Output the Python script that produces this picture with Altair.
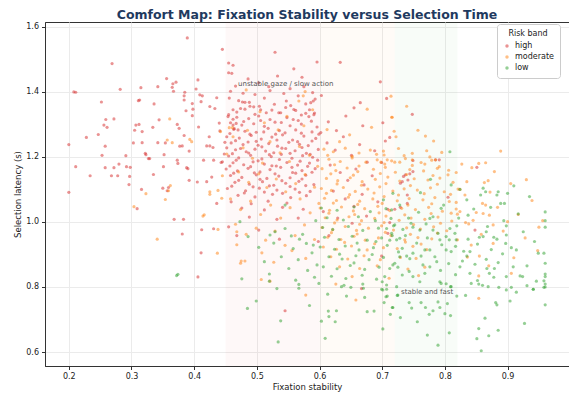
import altair as alt
import pandas as pd

# ---- data ----
high_pts = [
    (0.389,1.566),(0.445,1.531),(0.269,1.487),(0.356,1.441),(0.406,1.437),(0.366,1.425),(0.371,1.43),
    (0.342,1.416),(0.365,1.414),(0.282,1.408),(0.315,1.413),(0.367,1.402),(0.403,1.409),(0.208,1.40),
    (0.211,1.399),(0.385,1.399),(0.384,1.388),(0.384,1.375),(0.313,1.375),(0.311,1.373),(0.409,1.391),
    (0.413,1.388),(0.411,1.37),(0.436,1.382),(0.252,1.369),(0.336,1.363),(0.397,1.364),(0.425,1.355),
    (0.433,1.349),(0.387,1.342),(0.398,1.347),(0.397,1.327),(0.259,1.315),(0.272,1.317),(0.344,1.314),
    (0.256,1.298),(0.261,1.291),(0.307,1.298),(0.312,1.30),(0.373,1.30),(0.44,1.304),(0.305,1.282),
    (0.317,1.278),(0.334,1.291),(0.376,1.288),(0.407,1.292),(0.441,1.28),(0.228,1.26),(0.247,1.269),
    (0.384,1.266),(0.424,1.262),(0.2,1.238),(0.258,1.233),(0.303,1.243),(0.317,1.244),(0.342,1.244),
    (0.354,1.243),(0.377,1.233),(0.381,1.234),(0.392,1.218),(0.42,1.234),(0.425,1.234),(0.43,1.229),
    (0.449,1.245),(0.253,1.205),(0.291,1.204),(0.322,1.211),(0.323,1.207),(0.352,1.207),(0.448,1.209),
    (0.327,1.195),(0.329,1.195),(0.373,1.19),(0.415,1.19),(0.431,1.19),(0.445,1.185),(0.211,1.17),
    (0.258,1.167),(0.272,1.167),(0.28,1.178),(0.292,1.17),(0.351,1.17),(0.388,1.167),(0.234,1.142),
    (0.268,1.142),(0.278,1.142),(0.298,1.168),(0.297,1.14),(0.296,1.115),(0.2,1.091),(0.316,1.10),
    (0.335,1.146),(0.374,1.18),(0.39,1.164),(0.35,1.104),(0.359,1.106),(0.357,1.096),(0.309,1.041),
    (0.392,1.128),(0.405,1.123),(0.42,1.124),(0.428,1.138),(0.443,1.183),(0.436,1.057),(0.368,1.008),
    (0.383,1.008),(0.412,0.976),(0.431,0.979),(0.381,0.963),(0.411,0.905),(0.406,0.831),
    # dense band 0.45-0.60
    (0.455,1.489),(0.462,1.482),(0.455,1.459),(0.46,1.457),(0.529,1.522),(0.559,1.471),(0.533,1.449),
    (0.519,1.416),(0.575,1.416),(0.456,1.381),(0.471,1.373),(0.477,1.369),(0.481,1.368),(0.488,1.368),
    (0.495,1.354),(0.504,1.356),(0.593,1.378),(0.59,1.372),(0.586,1.367),(0.578,1.363),(0.462,1.345),
    (0.474,1.349),(0.481,1.347),(0.489,1.356),(0.506,1.345),(0.515,1.336),(0.535,1.336),(0.538,1.336),
    (0.554,1.358),(0.559,1.346),(0.562,1.343),(0.578,1.334),(0.584,1.345),(0.592,1.335),(0.591,1.33),
    (0.454,1.324),(0.462,1.316),(0.464,1.287),(0.47,1.283),(0.455,1.33),(0.462,1.298),(0.467,1.303),
    (0.497,1.392),(0.512,1.381),(0.543,1.395),(0.566,1.388),(0.528,1.362),(0.547,1.372),(0.466,1.418),
    (0.503,1.428),(0.486,1.44),(0.572,1.445),
    (0.468,1.322),(0.487,1.318),(0.503,1.326),(0.521,1.315),(0.548,1.321),(0.566,1.312),(0.583,1.324),
    (0.458,1.305),(0.476,1.298),(0.495,1.302),(0.512,1.294),(0.529,1.307),(0.553,1.296),(0.571,1.301),(0.596,1.292),
    (0.463,1.285),(0.481,1.279),(0.499,1.276),(0.518,1.288),(0.536,1.281),(0.545,1.274),(0.562,1.283),(0.588,1.277),
    (0.452,1.262),(0.472,1.258),(0.491,1.266),(0.507,1.255),(0.524,1.261),(0.541,1.268),(0.557,1.252),(0.575,1.264),(0.594,1.257),
    (0.459,1.243),(0.478,1.238),(0.486,1.246),(0.502,1.236),(0.519,1.241),(0.533,1.233),(0.551,1.245),(0.568,1.239),(0.582,1.235),
    (0.466,1.222),(0.483,1.216),(0.497,1.224),(0.514,1.218),(0.527,1.213),(0.546,1.226),(0.561,1.219),(0.579,1.211),(0.598,1.223),
    (0.455,1.203),(0.471,1.197),(0.49,1.205),(0.508,1.194),(0.523,1.201),(0.539,1.208),(0.556,1.196),(0.573,1.204),(0.589,1.199),
    (0.462,1.182),(0.479,1.176),(0.494,1.185),(0.512,1.178),(0.531,1.172),(0.548,1.183),(0.565,1.175),(0.584,1.181),
    (0.451,1.163),(0.469,1.157),(0.486,1.165),(0.505,1.154),(0.521,1.161),(0.538,1.168),(0.557,1.152),(0.572,1.158),(0.593,1.164),
    (0.458,1.143),(0.476,1.137),(0.499,1.145),(0.516,1.134),(0.535,1.141),(0.553,1.136),(0.578,1.144),
    (0.465,1.122),(0.488,1.116),(0.509,1.124),(0.527,1.113),(0.546,1.119),(0.567,1.125),(0.591,1.115),
    (0.453,1.103),(0.482,1.096),(0.504,1.104),(0.532,1.098),(0.561,1.101),(0.585,1.094),
    (0.47,1.082),(0.497,1.077),(0.525,1.085),(0.554,1.075),(0.579,1.081),
    (0.459,1.062),(0.491,1.056),(0.518,1.064),(0.548,1.058),
    (0.476,1.043),(0.512,1.037),(0.541,1.045),(0.574,1.039),
    (0.488,1.015),(0.532,1.008),(0.566,1.012),
    (0.455,0.985),(0.468,0.958),(0.503,0.975),(0.536,0.947),(0.545,0.727),
    (0.458,1.402),(0.478,1.396),(0.521,1.404),(0.553,1.41),(0.589,1.398),
    (0.468,1.338),(0.497,1.331),(0.524,1.344),(0.546,1.352),(0.571,1.329),
    (0.479,1.309),(0.506,1.312),(0.539,1.306),(0.558,1.315),(0.587,1.31),
    (0.457,1.272),(0.489,1.27),(0.511,1.277),(0.53,1.27),(0.571,1.273),(0.599,1.27),
    (0.466,1.25),(0.499,1.248),(0.532,1.252),(0.565,1.247),(0.588,1.249),
    (0.452,1.228),(0.474,1.226),(0.508,1.231),(0.54,1.227),(0.572,1.229),
    (0.461,1.21),(0.487,1.212),(0.52,1.207),(0.553,1.211),(0.585,1.208),
    (0.467,1.19),(0.502,1.188),(0.536,1.192),(0.569,1.187),(0.597,1.19),
    (0.457,1.172),(0.49,1.17),(0.524,1.173),(0.556,1.168),(0.581,1.171),
    (0.463,1.15),(0.496,1.151),(0.529,1.148),(0.562,1.15),(0.588,1.153),
    (0.471,1.128),(0.505,1.131),(0.54,1.127),(0.572,1.132),
    (0.46,1.11),(0.494,1.108),(0.52,1.111),(0.553,1.109),(0.578,1.112),
    (0.48,1.089),(0.512,1.092),(0.541,1.088),(0.568,1.091),
    # tail beyond 0.60
    (0.596,1.492),(0.633,1.491),(0.697,1.431),(0.603,1.389),(0.665,1.367),(0.707,1.38),(0.748,1.331),
    (0.701,1.305),(0.712,1.26),(0.705,1.249),(0.791,1.191),(0.851,1.168),(0.699,1.183),(0.749,1.189),
    (0.785,1.191),(0.749,1.155),(0.744,1.148),(0.737,1.145),(0.734,1.14),(0.741,1.129),(0.729,1.119),
    (0.732,1.124),(0.74,1.083),(0.74,1.057),(0.729,1.045),(0.72,1.039),(0.709,1.039),(0.805,1.076),
    (0.712,0.998),(0.709,0.965),(0.848,0.975),(0.699,0.895),
    (0.612,1.243),(0.625,1.221),(0.638,1.262),(0.651,1.205),(0.664,1.238),(0.676,1.184),(0.688,1.219),
    (0.617,1.175),(0.633,1.152),(0.645,1.128),(0.658,1.163),(0.671,1.114),(0.684,1.142),(0.622,1.095),
    (0.641,1.071),(0.655,1.048),(0.668,1.085),(0.693,1.062),(0.606,1.032),(0.629,1.012),(0.652,0.996),
    (0.675,1.018),(0.614,1.308),(0.642,1.326),(0.627,1.281),(0.669,1.296),(0.655,1.351),(0.602,1.275),
    (0.667,0.795),(0.615,0.958),(0.598,0.94),
]

mod_pts = [
    (0.361,1.317),(0.442,1.278),(0.456,1.29),(0.461,1.29),(0.393,1.254),(0.396,1.247),(0.357,1.252),
    (0.365,1.244),(0.452,1.209),(0.323,1.087),(0.359,1.096),(0.362,1.112),(0.354,1.069),(0.304,1.047),
    (0.445,1.142),(0.425,1.093),(0.425,1.085),(0.438,1.097),(0.444,1.073),(0.414,1.018),(0.416,1.022),
    (0.438,0.977),(0.341,0.947),(0.437,0.904),(0.483,1.406),(0.468,0.97),(0.468,0.93),
    (0.462,1.262),(0.478,1.228),(0.493,1.196),(0.509,1.181),(0.521,1.247),(0.537,1.213),(0.552,1.186),
    (0.568,1.232),(0.584,1.205),(0.597,1.171),(0.471,1.154),(0.487,1.122),(0.503,1.148),(0.516,1.106),
    (0.531,1.132),(0.546,1.093),(0.562,1.118),(0.577,1.146),(0.592,1.107),(0.458,1.071),(0.474,1.038),
    (0.49,1.064),(0.506,1.023),(0.522,1.052),(0.538,1.012),(0.553,1.044),(0.569,1.071),(0.585,1.028),
    (0.599,1.057),(0.466,0.993),(0.483,0.962),(0.499,0.981),(0.514,0.944),(0.529,0.972),(0.545,0.928),
    (0.561,0.958),(0.576,0.991),(0.592,0.946),(0.508,0.905),(0.527,0.876),(0.556,0.912),(0.578,0.888),
    (0.474,0.873),(0.485,1.282),(0.512,1.305),(0.548,1.325),(0.575,1.296),(0.589,1.345),(0.534,1.283),
    (0.505,1.339),(0.567,1.372),(0.574,1.388),(0.577,1.401),(0.578,0.775),(0.626,0.809),(0.658,0.76),
    (0.507,0.823),(0.521,0.818),(0.475,0.88),(0.481,0.88),
    (0.714,1.387),(0.739,1.356),(0.716,1.322),(0.719,1.279),(0.757,1.282),(0.769,1.264),(0.782,1.249),
    (0.703,1.206),(0.698,1.184),(0.708,1.191),(0.72,1.184),(0.728,1.184),(0.748,1.191),(0.768,1.178),
    (0.785,1.191),(0.843,1.167),(0.854,1.18),(0.865,1.182),(0.889,1.218),(0.676,1.347),(0.715,1.322),
    (0.612,1.284),(0.648,1.268),(0.683,1.291),(0.722,1.262),(0.632,1.247),
    (0.607,1.224),(0.622,1.216),(0.641,1.227),(0.663,1.212),(0.681,1.221),(0.702,1.218),(0.726,1.226),(0.748,1.211),(0.771,1.219),(0.795,1.214),
    (0.615,1.193),(0.633,1.186),(0.652,1.197),(0.674,1.184),(0.692,1.191),(0.715,1.188),(0.737,1.195),(0.762,1.183),(0.779,1.19),
    (0.604,1.164),(0.626,1.158),(0.644,1.166),(0.661,1.155),(0.686,1.162),(0.705,1.168),(0.721,1.153),(0.744,1.161),(0.766,1.157),(0.788,1.165),(0.806,1.159),
    (0.611,1.134),(0.629,1.127),(0.649,1.136),(0.668,1.124),(0.689,1.131),(0.709,1.138),(0.728,1.126),(0.751,1.133),(0.773,1.129),(0.792,1.135),(0.813,1.122),
    (0.603,1.103),(0.619,1.097),(0.638,1.106),(0.657,1.094),(0.677,1.101),(0.696,1.108),(0.717,1.095),(0.735,1.102),(0.756,1.098),(0.777,1.105),(0.799,1.093),(0.824,1.10),
    (0.608,1.073),(0.627,1.066),(0.646,1.076),(0.664,1.064),(0.685,1.071),(0.703,1.078),(0.724,1.065),(0.743,1.072),(0.765,1.068),(0.784,1.075),(0.807,1.063),
    (0.601,1.043),(0.616,1.036),(0.635,1.046),(0.654,1.034),(0.672,1.041),(0.693,1.048),(0.712,1.035),(0.731,1.042),(0.753,1.038),(0.774,1.045),(0.796,1.033),(0.818,1.04),
    (0.609,1.013),(0.628,1.006),(0.647,1.016),(0.667,1.004),(0.688,1.011),(0.706,1.018),(0.727,1.005),(0.746,1.012),(0.768,1.008),(0.789,1.015),(0.811,1.003),
    (0.604,0.983),(0.621,0.976),(0.641,0.986),(0.659,0.974),(0.678,0.981),(0.699,0.988),(0.718,0.975),(0.739,0.982),(0.761,0.978),(0.782,0.985),(0.803,0.973),
    (0.613,0.953),(0.634,0.946),(0.655,0.956),(0.673,0.944),(0.694,0.951),(0.714,0.958),(0.736,0.945),(0.757,0.952),(0.779,0.948),
    (0.606,0.923),(0.627,0.916),(0.651,0.926),(0.676,0.914),(0.702,0.921),(0.724,0.918),(0.749,0.925),(0.771,0.915),
    (0.618,0.893),(0.645,0.886),(0.671,0.896),(0.697,0.884),(0.729,0.891),(0.754,0.888),
    (0.632,0.862),(0.664,0.857),(0.692,0.865),(0.741,0.855),(0.768,0.861),
    (0.652,0.832),(0.711,0.827),(0.758,0.835),
    (0.613,1.205),(0.652,1.202),(0.691,1.208),(0.735,1.204),(0.776,1.20),
    (0.624,1.176),(0.663,1.172),(0.704,1.178),(0.748,1.174),(0.791,1.17),
    (0.618,1.148),(0.654,1.144),(0.697,1.149),(0.739,1.146),(0.781,1.143),
    (0.628,1.117),(0.667,1.113),(0.706,1.118),(0.745,1.112),(0.788,1.116),
    (0.611,1.088),(0.648,1.084),(0.687,1.089),(0.726,1.083),(0.767,1.087),(0.809,1.085),
    (0.622,1.058),(0.661,1.054),(0.70,1.057),(0.741,1.052),(0.779,1.056),
    (0.615,1.027),(0.656,1.023),(0.695,1.028),(0.736,1.022),(0.778,1.026),(0.82,1.024),
    (0.624,0.997),(0.664,0.993),(0.703,0.998),(0.75,0.992),(0.793,0.996),
    (0.619,0.967),(0.66,0.963),(0.705,0.968),(0.745,0.962),(0.788,0.966),
    (0.64,0.937),(0.688,0.933),(0.737,0.938),(0.762,0.932),
    (0.854,0.765),(0.805,1.145),(0.818,1.152),(0.835,1.124),(0.863,1.121),(0.869,1.127),(0.86,1.057),
    (0.865,1.052),(0.85,1.029),(0.861,1.026),(0.871,1.021),(0.833,0.998),(0.838,0.994),(0.877,0.991),
    (0.90,1.001),(0.95,0.984),(0.842,0.929),(0.877,0.934),(0.855,0.895),(0.906,0.842),(0.854,0.834),
    (0.821,1.101),(0.81,1.027),(0.824,1.032),
    (0.818,1.06),(0.832,1.083),(0.845,1.005),(0.858,0.962),(0.872,1.092),(0.884,1.045),(0.893,0.972),
    (0.905,1.118),(0.917,1.023),(0.928,0.951),(0.939,1.066),(0.948,0.912),(0.956,1.004),(0.82,0.945),
    (0.836,0.892),(0.87,0.865),(0.91,0.89),(0.827,1.178),(0.879,1.155),(0.93,1.13),
]

low_pts = [
    (0.372,0.835),(0.374,0.839),
    (0.485,0.734),(0.499,0.757),(0.52,0.818),(0.538,0.696),(0.534,0.631),(0.567,0.808),(0.567,0.796),
    (0.584,0.743),(0.599,0.811),(0.613,0.778),(0.614,0.726),(0.615,0.709),(0.627,0.727),(0.603,0.695),
    (0.625,0.693),(0.609,0.642),(0.635,0.801),(0.639,0.805),(0.643,0.772),(0.65,0.799),(0.669,0.809),
    (0.67,0.796),(0.672,0.768),(0.676,0.724),(0.687,0.726),(0.70,0.816),(0.699,0.793),(0.703,0.752),
    (0.701,0.671),(0.707,0.806),(0.708,0.772),(0.713,0.716),(0.717,0.737),(0.725,0.775),
    (0.701,0.791),(0.707,0.793),(0.706,0.77),(0.716,0.737),(0.724,0.774),(0.729,0.706),(0.743,0.752),
    (0.747,0.735),(0.756,0.693),(0.762,0.752),(0.769,0.737),(0.775,0.716),(0.781,0.727),(0.772,0.652),
    (0.789,0.754),(0.792,0.737),(0.789,0.621),(0.80,0.718),(0.809,0.712),(0.807,0.659),(0.804,0.749),
    (0.802,0.81),(0.809,0.801),(0.819,0.772),(0.833,0.774),(0.842,0.811),(0.854,0.809),(0.86,0.805),
    (0.869,0.801),(0.864,0.704),(0.854,0.672),(0.851,0.641),(0.858,0.604),(0.87,0.65),(0.881,0.752),
    (0.883,0.745),(0.885,0.667),(0.904,0.757),(0.898,0.791),(0.914,0.784),(0.886,0.799),(0.906,0.799),
    (0.927,0.688),(0.931,0.804),(0.941,0.793),(0.946,0.818),(0.96,0.745),(0.958,0.799),(0.96,0.809),
    (0.808,1.216),(0.777,1.131),(0.761,1.09),(0.717,1.088),(0.702,1.068),(0.715,1.037),(0.728,1.052),
    (0.776,1.011),(0.781,1.016),(0.794,1.042),(0.798,1.052),(0.81,1.114),(0.824,1.10),(0.835,1.068),
    (0.837,1.021),(0.857,1.083),(0.861,1.104),(0.865,1.093),(0.885,1.093),(0.883,1.083),(0.889,1.057),
    (0.895,1.057),(0.90,1.088),(0.91,1.111),(0.935,1.078),(0.917,1.025),(0.96,1.031),(0.96,1.004),
    (0.96,0.984),(0.894,1.004),(0.898,0.988),(0.868,0.986),(0.866,0.97),(0.819,0.988),(0.808,0.98),
    (0.816,0.965),(0.837,0.947),(0.855,0.953),(0.861,0.955),(0.878,0.953),(0.883,0.947),(0.898,0.96),
    (0.897,0.934),(0.914,0.914),(0.949,0.904),(0.958,0.904),(0.96,0.873),(0.96,0.84),(0.96,0.832),
    (0.958,0.819),(0.96,0.80),(0.924,0.832),(0.92,0.834),(0.941,0.793),(0.909,0.862),(0.898,0.832),
    (0.879,0.857),(0.867,0.857),(0.871,0.842),(0.84,0.842),(0.824,0.862),(0.835,0.895),(0.84,0.909),
    (0.81,0.909),(0.818,0.945),(0.802,0.955),(0.807,0.945),(0.792,0.945),(0.776,0.914),(0.768,0.914),
    (0.784,0.893),(0.765,0.868),(0.749,0.904),(0.739,0.895),(0.728,0.893),(0.72,0.873),(0.712,0.857),
    (0.704,0.832),(0.732,0.919),(0.723,0.945),(0.728,0.95),(0.715,0.965),(0.707,0.98),(0.72,0.991),
    (0.733,0.977),(0.746,0.996),(0.749,0.984),(0.76,0.975),(0.77,0.994),(0.781,0.975),(0.789,0.965),
    (0.802,0.914),(0.76,0.816),(0.792,0.816),(0.794,0.811),(0.81,0.801),(0.776,0.862),(0.732,0.837),
    (0.723,0.801),(0.749,0.832),
    (0.712,0.944),(0.737,0.958),(0.755,0.935),(0.772,0.951),(0.795,0.93),(0.817,0.925),(0.83,0.91),
    (0.852,0.932),(0.874,0.915),(0.892,0.902),(0.726,0.908),(0.744,0.887),(0.762,0.895),(0.787,0.878),
    (0.806,0.872),(0.828,0.88),(0.848,0.87),(0.866,0.885),(0.885,0.875),(0.906,0.921),(0.725,0.861),
    (0.743,0.848),(0.768,0.842),(0.793,0.851),(0.817,0.838),(0.852,0.82),(0.878,0.83),(0.931,0.865),
    (0.943,0.94),(0.925,0.97),(0.742,1.012),(0.758,1.03),(0.822,1.012),(0.846,1.04),(0.873,1.045),
    (0.655,0.874),(0.632,0.901),(0.684,0.90),(0.66,0.935),(0.69,0.94),
    (0.545,1.052),(0.473,1.001),(0.529,0.97),(0.521,0.96),(0.555,0.957),(0.568,0.947),(0.579,0.934),
    (0.59,0.929),(0.594,1.004),
    (0.603,1.043),(0.628,1.036),(0.655,1.046),(0.681,1.032),(0.706,1.041),
    (0.612,1.013),(0.638,1.006),(0.662,1.016),(0.689,1.004),(0.714,1.011),
    (0.605,0.983),(0.621,0.977),(0.646,0.986),(0.669,0.974),(0.694,0.981),(0.718,0.988),
    (0.608,0.953),(0.631,0.946),(0.652,0.956),(0.676,0.944),(0.699,0.951),(0.716,0.958),
    (0.601,0.923),(0.624,0.916),(0.641,0.926),(0.663,0.914),(0.686,0.921),(0.708,0.928),
    (0.615,0.893),(0.636,0.886),(0.658,0.896),(0.679,0.884),(0.702,0.891),
    (0.606,0.862),(0.628,0.856),(0.649,0.866),(0.672,0.854),(0.695,0.861),(0.717,0.868),
    (0.619,0.833),(0.642,0.826),(0.668,0.836),(0.691,0.824),
    (0.486,0.955),(0.503,0.922),(0.512,0.878),(0.527,0.935),(0.539,0.893),(0.551,0.857),(0.558,0.918),
    (0.566,0.884),(0.573,0.962),(0.581,0.851),(0.588,0.905),(0.596,0.868),(0.545,0.98),(0.52,0.84),
    (0.476,0.825),(0.562,0.821),(0.592,0.83),(0.532,0.795),
]

band_start = [0.45, 0.60, 0.72]
band_end = [0.60, 0.72, 0.82]
band_color = ["#d62728", "#ff7f0e", "#2ca02c"]
x_ticks = [0.2, 0.3, 0.4, 0.5, 0.6, 0.7, 0.8, 0.9]
y_ticks = [0.6, 0.8, 1.0, 1.2, 1.4, 1.6]
note_text = ["unstable gaze / slow action", "stable and fast"]
note_x = [0.47, 0.73]
note_y = [1.425, 0.785]

classes = ["high", "moderate", "low"]
colors = ["#d62728", "#ff7f0e", "#2ca02c"]

rows = []
for name, pts in zip(classes, [high_pts, mod_pts, low_pts]):
    for x, y in pts:
        rows.append({"x": x, "y": y, "band": name})
df = pd.DataFrame(rows)

bands_df = pd.DataFrame({"x": band_start, "x2": band_end, "c": band_color})
notes_df = pd.DataFrame({"t": note_text, "x": note_x, "y": note_y})

XDOM = [0.162, 0.998]
YDOM = [0.557, 1.615]
W, H = 524, 344

xs = alt.Scale(domain=XDOM, nice=False, zero=False)
ys = alt.Scale(domain=YDOM, nice=False, zero=False)

shade = alt.Chart(bands_df).mark_rect(opacity=0.03).encode(
    x=alt.X("x:Q", scale=xs),
    x2="x2:Q",
    y=alt.value(0),
    y2=alt.value(H),
    fill=alt.Fill("c:N", scale=None, legend=None),
)

points = alt.Chart(df).mark_circle(size=10, opacity=0.5).encode(
    x=alt.X("x:Q", scale=xs,
            axis=alt.Axis(title="Fixation stability", values=x_ticks, format=".1f")),
    y=alt.Y("y:Q", scale=ys,
            axis=alt.Axis(title="Selection latency (s)", values=y_ticks, format=".1f")),
    color=alt.Color("band:N", scale=alt.Scale(domain=classes, range=colors),
                    legend=alt.Legend(title="Risk band", orient="none", legendX=452, legendY=2,
                                      fillColor="white", strokeColor="#cccccc", padding=6,
                                      cornerRadius=3, titleAnchor="middle", symbolOpacity=0.5,
                                      symbolSize=12, labelFontSize=8, titleFontSize=8,
                                      titleFontWeight="normal", rowPadding=3, titlePadding=4,
                                      labelColor="#222", titleColor="#222")),
)

notes = alt.Chart(notes_df).mark_text(align="left", baseline="middle", fontSize=7,
                                      color="#555555", font="DejaVu Sans").encode(
    x=alt.X("x:Q", scale=xs), y=alt.Y("y:Q", scale=ys), text="t:N")

chart = alt.layer(shade, points, notes).properties(
    width=W, height=H,
    title=alt.TitleParams("Comfort Map: Fixation Stability versus Selection Time",
                          fontSize=12.5, font="DejaVu Sans", fontWeight="bold",
                          color="#1f3a5f", anchor="middle", offset=1),
    padding={"left": 45, "top": 22, "right": 0, "bottom": 28},
    autosize="none",
).configure_view(stroke="#333333", strokeWidth=1).configure_axis(
    domainColor="#333333", tickColor="#333333", labelColor="#222222", titleColor="#222222",
    labelFont="DejaVu Sans", titleFont="DejaVu Sans", labelFontSize=8, titleFontSize=8.5,
    titleFontWeight="normal", gridColor="#ebebeb", tickSize=3.5, labelPadding=3,
).configure_axisX(titlePadding=2).configure_axisY(titlePadding=3).configure_legend(
    labelFont="DejaVu Sans", titleFont="DejaVu Sans")

chart.save("out.html", embed_options={"renderer": "svg", "actions": False})
